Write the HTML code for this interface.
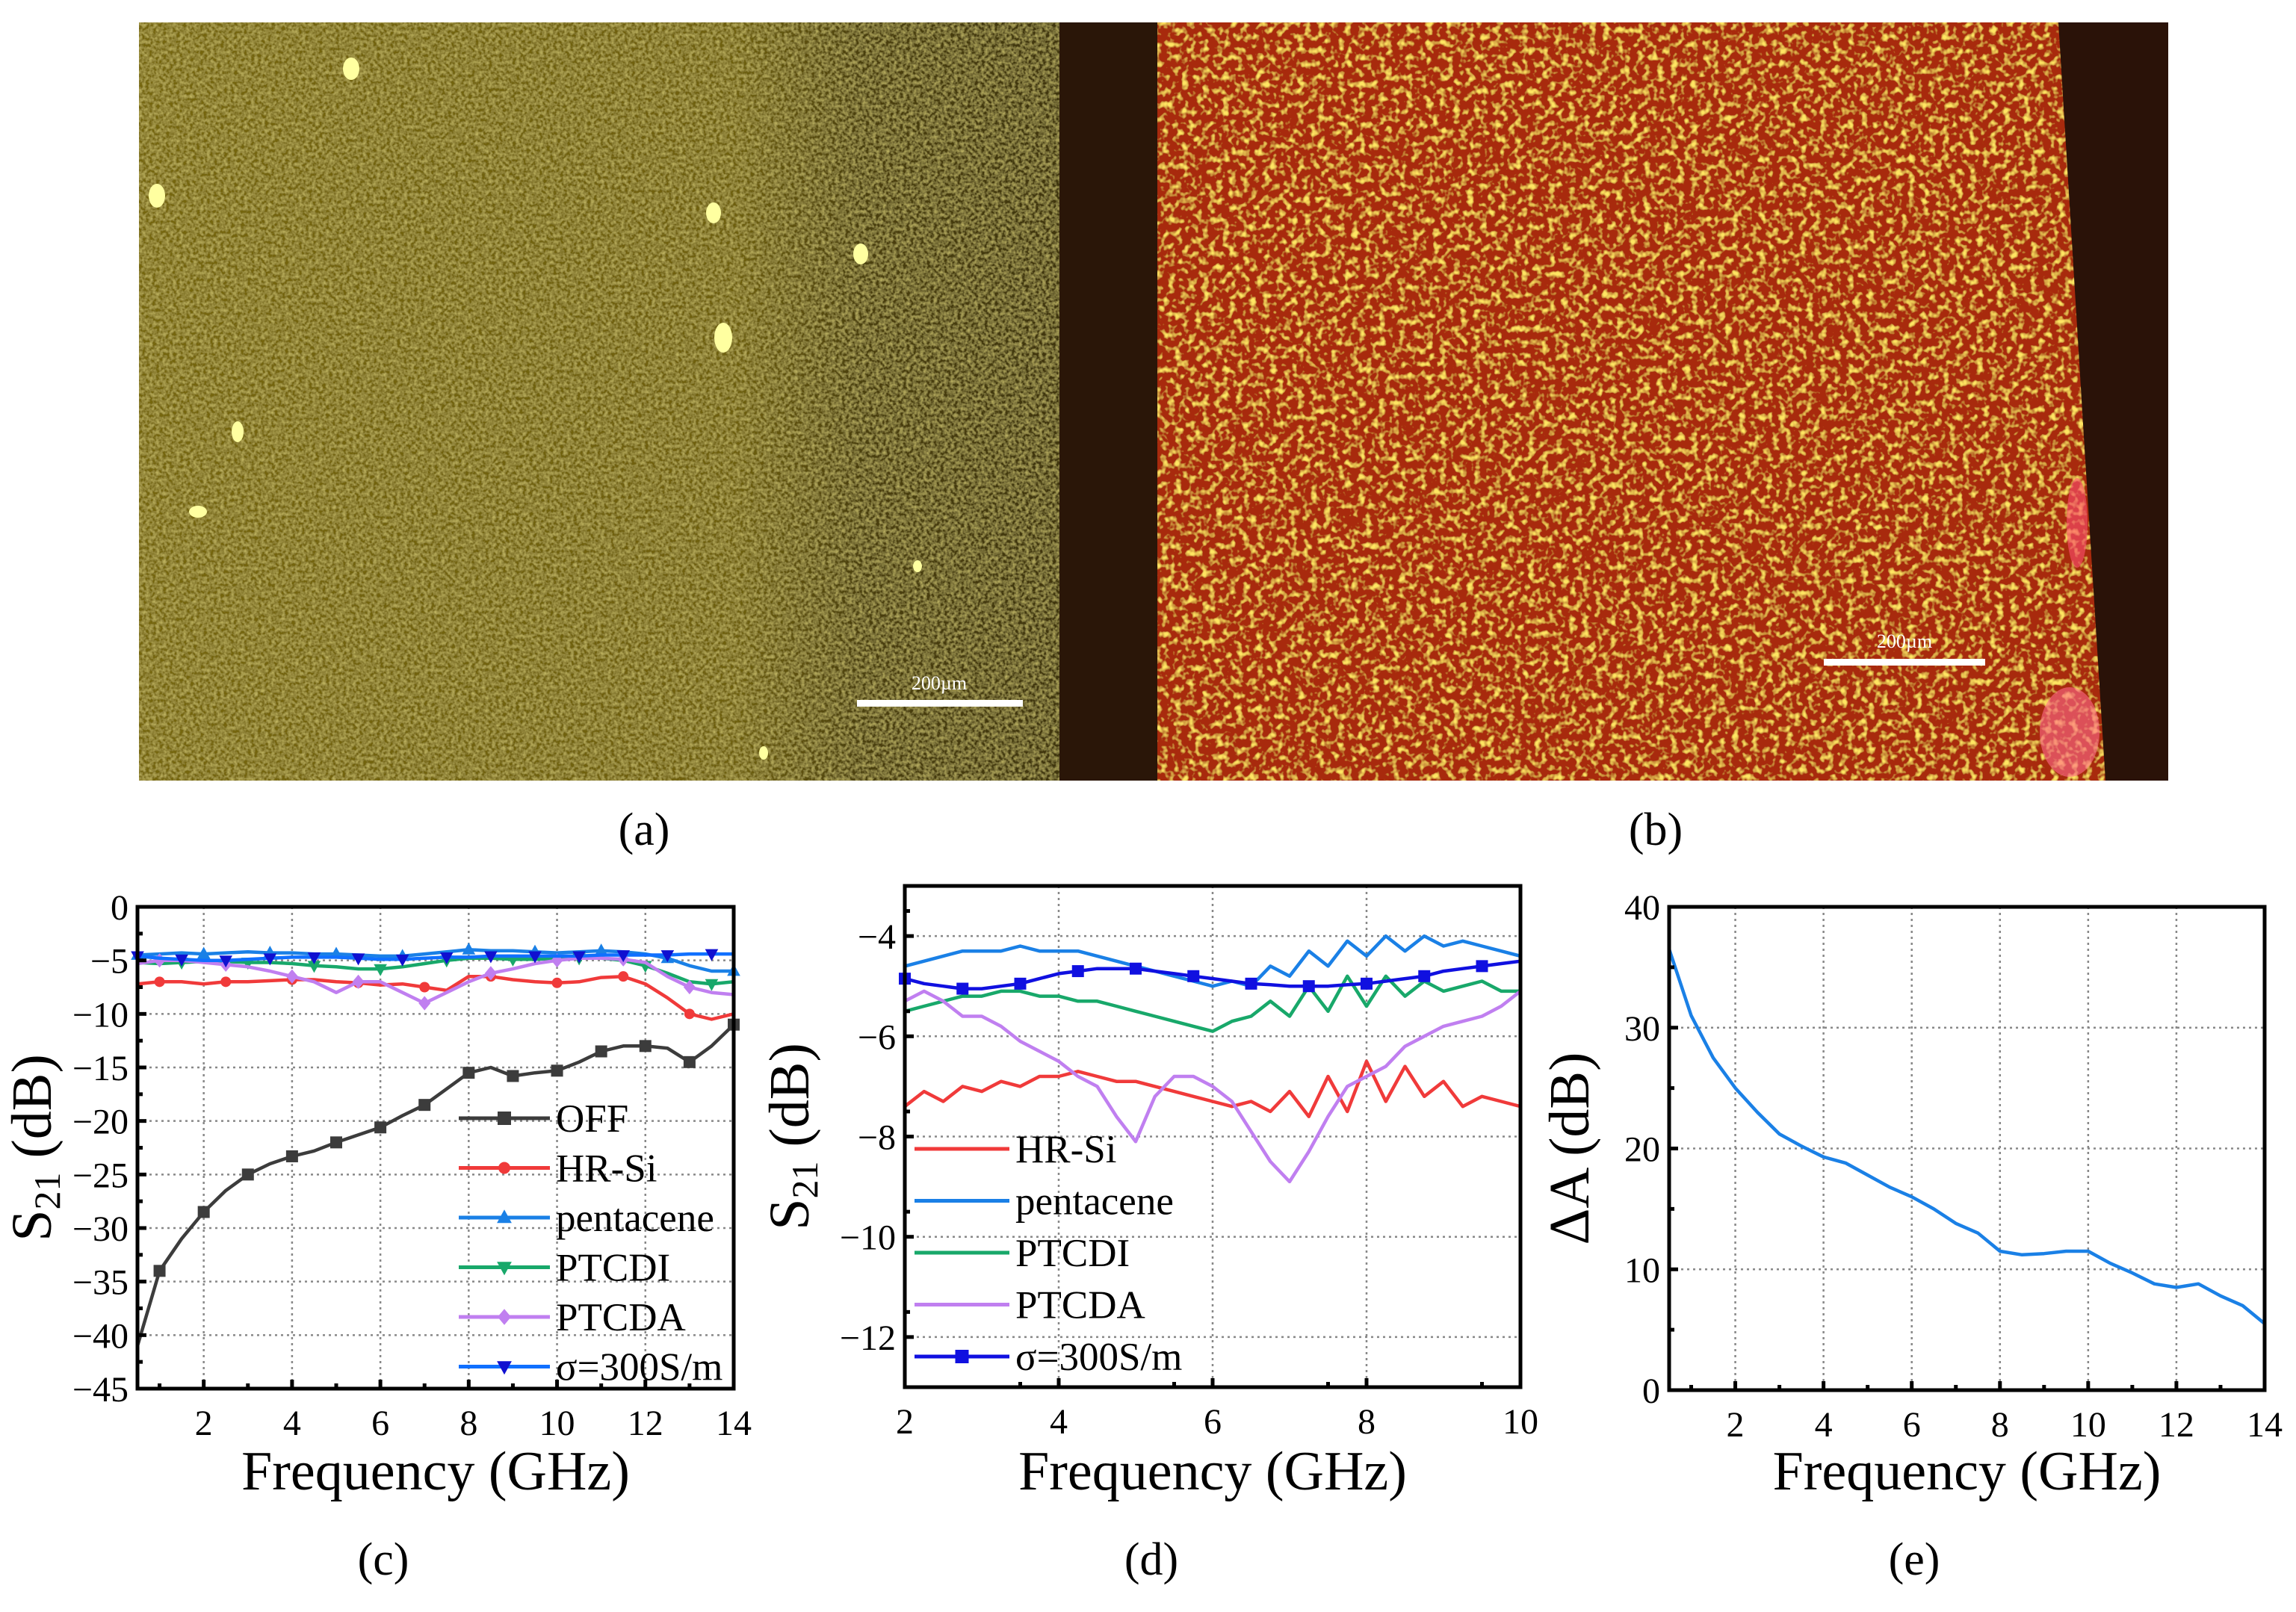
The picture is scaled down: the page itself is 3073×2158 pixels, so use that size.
<!DOCTYPE html>
<html><head><meta charset="utf-8">
<style>
html,body{margin:0;padding:0;background:#fff;}
body{width:3073px;height:2153px;overflow:hidden;position:relative;font-family:"Liberation Serif",serif;}
svg text{font-family:"Liberation Serif",serif;}
</style></head>
<body>
<svg id="fig" width="3073" height="2153" viewBox="0 0 3073 2153" xmlns="http://www.w3.org/2000/svg">
<defs>
<filter id="texA" x="0" y="0" width="100%" height="100%">
<feTurbulence type="fractalNoise" baseFrequency="0.22" numOctaves="2" seed="3" result="n"/>
<feColorMatrix in="n" type="matrix" values="0 0 0 0 0.72  0 0 0 0 0.64  0 0 0 0 0.18  0 0 0 1.1 -0.35" result="c"/>
<feComposite in="c" in2="SourceGraphic" operator="over"/>
</filter>
<filter id="texB" x="0" y="0" width="100%" height="100%">
<feTurbulence type="fractalNoise" baseFrequency="0.11" numOctaves="2" seed="7" result="n"/>
<feColorMatrix in="n" type="matrix" values="0 0 0 0 1  0 0 0 0 0.78  0 0 0 0 0.12  0 0 0 3.5 -1.75" result="c"/>
<feComposite in="c" in2="SourceGraphic" operator="over"/>
</filter>
<linearGradient id="gA" x1="0" x2="1" y1="0" y2="0">
<stop offset="0" stop-color="#75660f"/><stop offset="0.62" stop-color="#6e600f"/><stop offset="0.75" stop-color="#4a3f0c"/><stop offset="1" stop-color="#3c320a"/>
</linearGradient>
</defs>
<g id="photos"></g>
<g id="charts"></g>
</svg>
<script>
// ---------- data: panel (c) ----------
const cFreq = [0.5,1,1.5,2,2.5,3,3.5,4,4.5,5,5.5,6,6.5,7,7.5,8,8.5,9,9.5,10,10.5,11,11.5,12,12.5,13,13.5,14];
const cOFF = [-41,-34,-31,-28.5,-26.5,-25,-24,-23.3,-22.8,-22,-21.3,-20.6,-19.5,-18.5,-17,-15.5,-15,-15.8,-15.5,-15.3,-14.5,-13.5,-13,-13,-13.2,-14.5,-13,-11];
const cHRSi = [-7.2,-7,-7,-7.2,-7,-7,-6.9,-6.8,-6.8,-7,-7.1,-7.3,-7.2,-7.5,-7.8,-6.5,-6.5,-6.8,-7,-7.1,-7,-6.6,-6.5,-7.2,-8.5,-10,-10.5,-10];
const cPentacene = [-4.5,-4.4,-4.3,-4.4,-4.3,-4.2,-4.3,-4.3,-4.4,-4.4,-4.5,-4.6,-4.6,-4.4,-4.2,-4,-4.1,-4.1,-4.2,-4.3,-4.2,-4.1,-4.2,-4.4,-4.8,-5.5,-6,-6];
const cPTCDI = [-5.2,-5.3,-5.2,-5.1,-5.1,-5.2,-5.2,-5.3,-5.5,-5.6,-5.8,-5.8,-5.6,-5.3,-5,-4.8,-4.8,-4.9,-4.9,-4.8,-4.8,-4.8,-5,-5.5,-6.2,-7,-7.2,-7];
const cPTCDA = [-5.3,-5,-5,-5.2,-5.4,-5.6,-6,-6.5,-7,-8,-7,-7,-8,-9,-8,-7,-6.2,-5.8,-5.3,-5,-4.8,-4.8,-4.9,-5.2,-6.5,-7.5,-8,-8.2];
const cSigma = [-4.6,-4.8,-4.9,-5,-5,-4.9,-4.8,-4.7,-4.7,-4.7,-4.8,-4.9,-4.9,-4.8,-4.7,-4.7,-4.6,-4.6,-4.6,-4.6,-4.6,-4.5,-4.5,-4.5,-4.5,-4.4,-4.4,-4.4];
const cXTicks = [2,4,6,8,10,12,14];
const cYTicks = [0,-5,-10,-15,-20,-25,-30,-35,-40,-45];
// ---------- data: panel (d) ----------
const dFreq = [2,2.25,2.5,2.75,3,3.25,3.5,3.75,4,4.25,4.5,4.75,5,5.25,5.5,5.75,6,6.25,6.5,6.75,7,7.25,7.5,7.75,8,8.25,8.5,8.75,9,9.25,9.5,9.75,10];
const dHRSi = [-7.4,-7.1,-7.3,-7.0,-7.1,-6.9,-7.0,-6.8,-6.8,-6.7,-6.8,-6.9,-6.9,-7.0,-7.1,-7.2,-7.3,-7.4,-7.3,-7.5,-7.1,-7.6,-6.8,-7.5,-6.5,-7.3,-6.6,-7.2,-6.9,-7.4,-7.2,-7.3,-7.4];
const dPentacene = [-4.6,-4.5,-4.4,-4.3,-4.3,-4.3,-4.2,-4.3,-4.3,-4.3,-4.4,-4.5,-4.6,-4.7,-4.8,-4.9,-5.0,-4.9,-5.0,-4.6,-4.8,-4.3,-4.6,-4.1,-4.4,-4.0,-4.3,-4.0,-4.2,-4.1,-4.2,-4.3,-4.4];
const dPTCDI = [-5.5,-5.4,-5.3,-5.2,-5.2,-5.1,-5.1,-5.2,-5.2,-5.3,-5.3,-5.4,-5.5,-5.6,-5.7,-5.8,-5.9,-5.7,-5.6,-5.3,-5.6,-5.0,-5.5,-4.8,-5.4,-4.8,-5.2,-4.9,-5.1,-5.0,-4.9,-5.1,-5.1];
const dPTCDA = [-5.3,-5.1,-5.3,-5.6,-5.6,-5.8,-6.1,-6.3,-6.5,-6.8,-7.0,-7.6,-8.1,-7.2,-6.8,-6.8,-7.0,-7.3,-7.9,-8.5,-8.9,-8.3,-7.6,-7.0,-6.8,-6.6,-6.2,-6.0,-5.8,-5.7,-5.6,-5.4,-5.1];
const dSigma = [-4.85,-4.95,-5.0,-5.05,-5.05,-5.0,-4.95,-4.85,-4.75,-4.7,-4.65,-4.65,-4.65,-4.7,-4.75,-4.8,-4.85,-4.9,-4.95,-4.97,-5.0,-5.0,-5.0,-4.97,-4.95,-4.9,-4.85,-4.8,-4.7,-4.65,-4.6,-4.55,-4.5];
const dXTicks = [2,4,6,8,10];
const dYTicks = [-4,-6,-8,-10,-12];
// ---------- data: panel (e) ----------
const eFreq = [0.5,1,1.5,2,2.5,3,3.5,4,4.5,5,5.5,6,6.5,7,7.5,8,8.5,9,9.5,10,10.5,11,11.5,12,12.5,13,13.5,14];
const eDeltaA = [36.5,31,27.5,25,23,21.2,20.2,19.3,18.8,17.8,16.8,16,15,13.8,13,11.5,11.2,11.3,11.5,11.5,10.5,9.7,8.8,8.5,8.8,7.8,7,5.5];
const eXTicks = [2,4,6,8,10,12,14];
const eYTicks = [0,10,20,30,40];

const NS = "http://www.w3.org/2000/svg";
function mk(tag, attrs, parent){ const e=document.createElementNS(NS,tag); for(const k in attrs) e.setAttribute(k,attrs[k]); if(parent) parent.appendChild(e); return e; }

// ---------- photos ----------
const ph = document.getElementById('photos');
const pa = mk('g',{},ph);


mk('rect',{x:186,y:30,width:1290,height:1015,fill:'url(#gA)',filter:'url(#texA)'},pa);
mk('rect',{x:1418,y:30,width:131,height:1015,fill:'#2a1608'},pa);
[[470,92,11,15],[210,262,11,16],[955,285,10,14],[1152,340,10,14],[968,452,12,20],[318,578,8,14],[265,685,12,8],[1228,758,6,8],[1022,1008,6,9]].forEach(s=>mk('ellipse',{cx:s[0],cy:s[1],rx:s[2],ry:s[3],fill:'#ffffa0'},pa));
const sbA = mk('rect',{x:1147,y:937,width:222,height:9,fill:'#fff'},pa);


const sbtA = mk('text',{x:1257,y:923,'font-size':26,fill:'#fff','text-anchor':'middle','font-family':'Liberation Sans'},pa); sbtA.textContent='200µm';


const pb = mk('g',{},ph);


mk('rect',{x:1549,y:30,width:1353,height:1015,fill:'#a82a0a',filter:'url(#texB)'},pb);
mk('polygon',{points:'2755,30 2902,30 2902,1045 2818,1045 2790,600',fill:'#2a1208'},pb);
mk('ellipse',{cx:2780,cy:700,rx:14,ry:60,fill:'#ff5070',opacity:0.6},pb);
mk('ellipse',{cx:2770,cy:980,rx:40,ry:60,fill:'#ff6a8a',opacity:0.6},pb);
const sbB = mk('rect',{x:2441,y:882,width:216,height:9,fill:'#fff'},pb);


const sbtB = mk('text',{x:2549,y:867,'font-size':26,fill:'#fff','text-anchor':'middle','font-family':'Liberation Sans'},pb); sbtB.textContent='200µm';


const la = mk('text',{x:862,y:1131,'font-size':62,'text-anchor':'middle'},ph); la.textContent='(a)';


const lb = mk('text',{x:2216,y:1131,'font-size':62,'text-anchor':'middle'},ph); lb.textContent='(b)';



// ---------- chart helpers ----------
const charts = document.getElementById('charts');
function marker(g, type, x, y, color, s){
  let el;
  if(type==='square') el=mk('rect',{x:x-s,y:y-s,width:2*s,height:2*s,fill:color},g);
  else if(type==='circle') el=mk('circle',{cx:x,cy:y,r:s,fill:color},g);
  else if(type==='up') el=mk('polygon',{points:`${x},${y-s*1.2} ${x-s*1.1},${y+s*0.8} ${x+s*1.1},${y+s*0.8}`,fill:color},g);
  else if(type==='down') el=mk('polygon',{points:`${x},${y+s*1.2} ${x-s*1.1},${y-s*0.8} ${x+s*1.1},${y-s*0.8}`,fill:color},g);
  else if(type==='diamond') el=mk('polygon',{points:`${x},${y-s*1.2} ${x+s},${y} ${x},${y+s*1.2} ${x-s},${y}`,fill:color},g);
  return el;
}
function makeChart(cfg){
  const g = mk('g',{},charts);
  
  
  const X = v => cfg.L + (v-cfg.xmin)/(cfg.xmax-cfg.xmin)*(cfg.R-cfg.L);
  const Y = v => cfg.B - (v-cfg.ymin)/(cfg.ymax-cfg.ymin)*(cfg.B-cfg.T);
  const grid = mk('g',{},g);
  
  
  cfg.xticks.forEach(t=>{ if(t>cfg.xmin && t<cfg.xmax) mk('line',{x1:X(t),x2:X(t),y1:cfg.T,y2:cfg.B,stroke:'#888','stroke-width':2.5,'stroke-dasharray':'3 5'},grid); });
  cfg.yticks.forEach(t=>{ if(t>cfg.ymin && t<cfg.ymax) mk('line',{x1:cfg.L,x2:cfg.R,y1:Y(t),y2:Y(t),stroke:'#888','stroke-width':2.5,'stroke-dasharray':'3 5'},grid); });
  cfg.series.forEach(s=>{
    const sg = mk('g',{},g);
    
    
    const pts = s.y.map((v,i)=>X(s.x[i]).toFixed(1)+','+Y(v).toFixed(1)).join(' ');
    const pl = mk('polyline',{points:pts,fill:'none',stroke:s.color,'stroke-width':s.w||4.5,'stroke-linejoin':'round'},sg);
    
    
    if(s.marker){ s.y.forEach((v,i)=>{ if(i%s.every===s.off){ const m=marker(sg,s.marker,X(s.x[i]),Y(v),s.mcolor||s.color,s.ms||8);
      
       } }); }
  });
  const fr = mk('rect',{x:cfg.L,y:cfg.T,width:cfg.R-cfg.L,height:cfg.B-cfg.T,fill:'none',stroke:'#000','stroke-width':5},g);
  
  
  const xa = mk('g',{},g);
  
  
  cfg.xticks.forEach(t=>{
    mk('line',{x1:X(t),x2:X(t),y1:cfg.B,y2:cfg.B-12,stroke:'#000','stroke-width':5},xa);
    const mt = t-cfg.xstep/2; if(mt>cfg.xmin) mk('line',{x1:X(mt),x2:X(mt),y1:cfg.B,y2:cfg.B-7,stroke:'#000','stroke-width':5},xa);
    const tx = mk('text',{x:X(t),y:cfg.B+62,'font-size':48,'text-anchor':'middle'},xa); tx.textContent=String(t);
    
    
  });
  const ya = mk('g',{},g);
  
  
  cfg.yticks.forEach(t=>{
    mk('line',{x1:cfg.L,x2:cfg.L+12,y1:Y(t),y2:Y(t),stroke:'#000','stroke-width':5},ya);
    const mt = t+cfg.ystep/2; if(mt<cfg.ymax) mk('line',{x1:cfg.L,x2:cfg.L+7,y1:Y(mt),y2:Y(mt),stroke:'#000','stroke-width':5},ya);
    const ty = mk('text',{x:cfg.L-12,y:Y(t)+17,'font-size':48,'text-anchor':'end'},ya); ty.textContent=String(t).replace('-','\u2212');
    
    
  });
  const xt = mk('text',{x:(cfg.L+cfg.R)/2,y:1994,'font-size':74,'text-anchor':'middle'},g); xt.textContent='Frequency (GHz)';
  
  
  const yt = mk('text',{x:0,y:0,'font-size':76,'text-anchor':'middle',transform:`translate(${cfg.ytx},${(cfg.T+cfg.B)/2}) rotate(-90)`},g);
  yt.innerHTML = cfg.ytitle;
  
  
  const pl = mk('text',{x:cfg.labelX,y:2108,'font-size':62,'text-anchor':'middle'},g); pl.textContent=cfg.label;
  
  
  if(cfg.legend){
    const lg = mk('g',{},g);
    
    
    cfg.series.forEach((s,i)=>{
      const y = cfg.legend.y0 + i*cfg.legend.dy;
      const le = mk('g',{},lg);
      
      
      mk('line',{x1:cfg.legend.x1,x2:cfg.legend.x2,y1:y,y2:y,stroke:s.color,'stroke-width':5},le);
      if(s.marker) marker(le,s.marker,(cfg.legend.x1+cfg.legend.x2)/2,y,s.mcolor||s.color,(s.ms||8)+1);
      const t = mk('text',{x:cfg.legend.x2+8,y:y+18,'font-size':53},le); t.textContent=s.label;
    });
  }
}

makeChart({name:'chart-c-s21-all', L:184,R:982,T:1214,B:1859, xmin:0.5,xmax:14,ymin:-45,ymax:0, xstep:2,ystep:5,
  xticks:cXTicks, yticks:cYTicks, ytx:68, ytitle:'S<tspan font-size="50" dy="12">21</tspan><tspan dy="-12"> (dB)</tspan>', label:'(c)', labelX:513,
  legend:{x1:614,x2:736,y0:1497,dy:66.5},
  series:[
    {key:'off',label:'OFF',x:cFreq,y:cOFF,color:'#3c3c3c',marker:'square',every:2,off:1,ms:8},
    {key:'hr-si',label:'HR-Si',x:cFreq,y:cHRSi,color:'#f03a3a',marker:'circle',every:3,off:1,ms:7},
    {key:'pentacene',label:'pentacene',x:cFreq,y:cPentacene,color:'#1a80e6',marker:'up',every:3,off:0,ms:8},
    {key:'ptcdi',label:'PTCDI',x:cFreq,y:cPTCDI,color:'#18a86a',marker:'down',every:3,off:2,ms:8},
    {key:'ptcda',label:'PTCDA',x:cFreq,y:cPTCDA,color:'#c07ff0',marker:'diamond',every:3,off:1,ms:8},
    {key:'sigma',label:'σ=300S/m',x:cFreq,y:cSigma,color:'#1070ff',mcolor:'#1010d0',marker:'down',every:2,off:0,ms:8}
  ]});

makeChart({name:'chart-d-s21-zoom', L:1211,R:2035,T:1186,B:1857, xmin:2,xmax:10,ymin:-13,ymax:-3, xstep:1,ystep:1,
  xticks:dXTicks, yticks:dYTicks, ytx:1082, ytitle:'S<tspan font-size="50" dy="12">21</tspan><tspan dy="-12"> (dB)</tspan>', label:'(d)', labelX:1541,
  legend:{x1:1224,x2:1351,y0:1538,dy:69.5},
  series:[
    {key:'hr-si',label:'HR-Si',x:dFreq,y:dHRSi,color:'#f03a3a'},
    {key:'pentacene',label:'pentacene',x:dFreq,y:dPentacene,color:'#1a80e6'},
    {key:'ptcdi',label:'PTCDI',x:dFreq,y:dPTCDI,color:'#18a86a'},
    {key:'ptcda',label:'PTCDA',x:dFreq,y:dPTCDA,color:'#c07ff0'},
    {key:'sigma',label:'σ=300S/m',x:dFreq,y:dSigma,color:'#1010e0',marker:'square',every:3,off:0,ms:8}
  ]});

makeChart({name:'chart-e-delta-a', L:2234,R:3031,T:1214,B:1861, xmin:0.5,xmax:14,ymin:0,ymax:40, xstep:2,ystep:10,
  xticks:eXTicks, yticks:eYTicks, ytx:2126, ytitle:'ΔA (dB)', label:'(e)', labelX:2562,
  series:[
    {key:'delta-a',label:'ΔA',x:eFreq,y:eDeltaA,color:'#1a80e6'}
  ]});
</script>
</body></html>
